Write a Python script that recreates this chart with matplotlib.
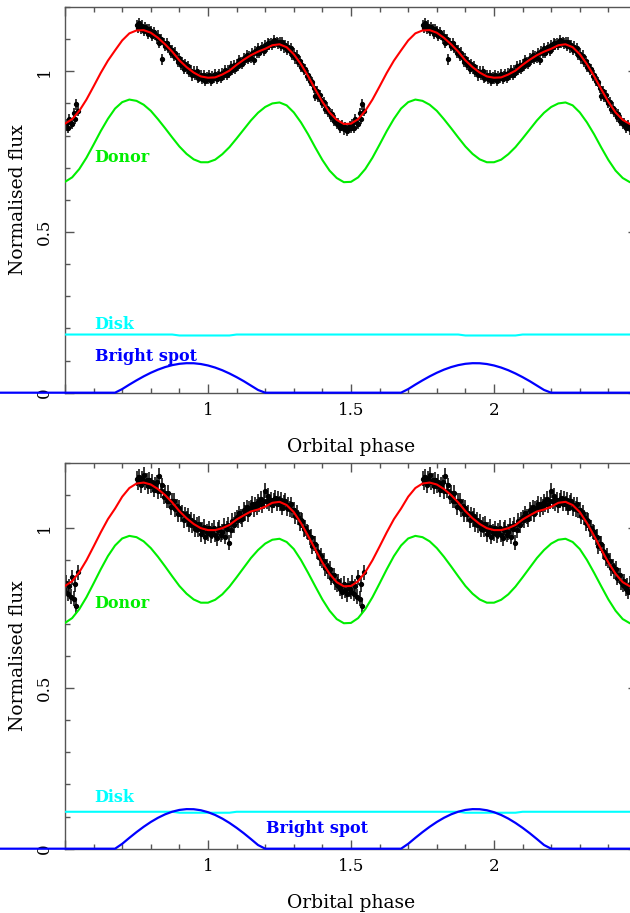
import matplotlib.pyplot as plt
import numpy as np
from matplotlib.ticker import MultipleLocator, FuncFormatter

# %% Model components over one orbital cycle (phase 0 .. 0.975, step 0.025)
cycle_phase = np.arange(40) * 0.025

donor_top = [0.717, 0.725, 0.742, 0.764, 0.791, 0.819, 0.847, 0.871, 0.889, 0.900,
             0.903, 0.894, 0.872, 0.841, 0.804, 0.763, 0.724, 0.691, 0.668, 0.655,
             0.656, 0.670, 0.696, 0.731, 0.772, 0.814, 0.852, 0.884, 0.904, 0.912,
             0.908, 0.896, 0.877, 0.851, 0.823, 0.794, 0.766, 0.743, 0.726, 0.717]
disk_top = [0.178, 0.178, 0.178, 0.178, 0.181, 0.181, 0.181, 0.181, 0.181, 0.181,
            0.181, 0.181, 0.181, 0.181, 0.181, 0.181, 0.181, 0.181, 0.181, 0.181,
            0.181, 0.181, 0.181, 0.181, 0.181, 0.181, 0.181, 0.181, 0.181, 0.181,
            0.181, 0.181, 0.181, 0.181, 0.181, 0.181, 0.178, 0.178, 0.178, 0.178]
spot_top = [0.0847, 0.0782, 0.0699, 0.0598, 0.0484, 0.0359, 0.0224, 0.0085, 0.0, 0.0,
            0.0, 0.0, 0.0, 0.0, 0.0, 0.0, 0.0, 0.0, 0.0, 0.0,
            0.0, 0.0, 0.0, 0.0, 0.0, 0.0, 0.0, 0.0, 0.0113, 0.0252,
            0.0384, 0.0508, 0.0620, 0.0717, 0.0797, 0.0858, 0.0899, 0.0918, 0.0916, 0.0892]
total_top = [0.980, 0.981, 0.990, 1.002, 1.020, 1.036, 1.050, 1.061, 1.070, 1.081,
             1.084, 1.075, 1.053, 1.022, 0.985, 0.944, 0.905, 0.872, 0.849, 0.836,
             0.837, 0.851, 0.877, 0.912, 0.953, 0.995, 1.033, 1.065, 1.096, 1.118,
             1.127, 1.128, 1.120, 1.104, 1.084, 1.061, 1.034, 1.013, 0.996, 0.984]

donor_bot = [0.766, 0.775, 0.792, 0.816, 0.845, 0.875, 0.905, 0.930, 0.950, 0.962,
             0.965, 0.955, 0.933, 0.899, 0.859, 0.817, 0.776, 0.741, 0.715, 0.702,
             0.703, 0.718, 0.746, 0.783, 0.826, 0.870, 0.911, 0.944, 0.966, 0.974,
             0.970, 0.957, 0.936, 0.909, 0.879, 0.848, 0.818, 0.794, 0.776, 0.766]
disk_bot = [0.112, 0.112, 0.112, 0.112, 0.115, 0.115, 0.115, 0.115, 0.115, 0.115,
            0.115, 0.115, 0.115, 0.115, 0.115, 0.115, 0.115, 0.115, 0.115, 0.115,
            0.115, 0.115, 0.115, 0.115, 0.115, 0.115, 0.115, 0.115, 0.115, 0.115,
            0.115, 0.115, 0.115, 0.115, 0.115, 0.115, 0.112, 0.112, 0.112, 0.112]
spot_bot = [0.1137, 0.1050, 0.0938, 0.0803, 0.0650, 0.0482, 0.0301, 0.0114, 0.0, 0.0,
            0.0, 0.0, 0.0, 0.0, 0.0, 0.0, 0.0, 0.0, 0.0, 0.0,
            0.0, 0.0, 0.0, 0.0, 0.0, 0.0, 0.0, 0.0, 0.0152, 0.0338,
            0.0516, 0.0682, 0.0832, 0.0962, 0.1070, 0.1152, 0.1207, 0.1232, 0.1229, 0.1197]
total_bot = [0.992, 0.992, 0.998, 1.008, 1.025, 1.038, 1.050, 1.056, 1.065, 1.077,
             1.080, 1.070, 1.048, 1.014, 0.974, 0.932, 0.891, 0.856, 0.830, 0.817,
             0.818, 0.833, 0.861, 0.898, 0.941, 0.985, 1.026, 1.059, 1.096, 1.123,
             1.137, 1.140, 1.134, 1.120, 1.101, 1.078, 1.051, 1.029, 1.011, 0.998]

# %% Observed light curves, phase 0.75 .. 1.545 (step 0.005)
data_phase = 0.75 + 0.005 * np.arange(160)

flux_top = [1.145, 1.135, 1.149, 1.133, 1.142, 1.125, 1.138, 1.131, 1.117, 1.132,
            1.124, 1.109, 1.123, 1.112, 1.102, 1.111, 1.088, 1.099, 1.037, 1.089,
            1.078, 1.088, 1.073, 1.075, 1.056, 1.065, 1.049, 1.058, 1.042, 1.028,
            1.040, 1.021, 1.028, 1.008, 1.022, 1.009, 1.017, 0.998, 1.002, 0.987,
            0.999, 0.988, 1.000, 0.979, 0.984, 0.988, 0.975, 0.988, 0.971, 0.983,
            0.975, 0.988, 0.971, 0.984, 0.979, 0.991, 0.976, 0.984, 0.992, 0.978,
            0.994, 0.989, 1.004, 0.989, 1.002, 0.996, 1.017, 1.005, 1.018, 1.007,
            1.023, 1.016, 1.034, 1.028, 1.023, 1.042, 1.035, 1.051, 1.038, 1.048,
            1.042, 1.057, 1.034, 1.064, 1.056, 1.071, 1.058, 1.067, 1.074, 1.062,
            1.082, 1.076, 1.089, 1.083, 1.089, 1.082, 1.096, 1.087, 1.092, 1.086,
            1.091, 1.080, 1.090, 1.074, 1.081, 1.067, 1.077, 1.063, 1.071, 1.051,
            1.055, 1.040, 1.049, 1.030, 1.033, 1.013, 1.018, 1.005, 1.007, 0.986,
            0.989, 0.969, 0.970, 0.966, 0.947, 0.924, 0.939, 0.921, 0.926, 0.910,
            0.901, 0.904, 0.883, 0.887, 0.873, 0.871, 0.857, 0.866, 0.846, 0.849,
            0.835, 0.838, 0.824, 0.830, 0.833, 0.819, 0.827, 0.814, 0.824, 0.830,
            0.825, 0.836, 0.825, 0.851, 0.839, 0.836, 0.870, 0.853, 0.897, 0.877]

flux_bot = [1.152, 1.141, 1.158, 1.133, 1.151, 1.165, 1.141, 1.147, 1.128, 1.149,
            1.130, 1.143, 1.118, 1.132, 1.141, 1.113, 1.161, 1.115, 1.131, 1.096,
            1.109, 1.084, 1.107, 1.084, 1.063, 1.084, 1.084, 1.058, 1.066, 1.042,
            1.061, 1.041, 1.045, 1.023, 1.041, 1.027, 1.037, 1.011, 1.023, 1.007,
            1.017, 0.995, 1.008, 0.994, 1.012, 0.980, 0.993, 1.002, 0.972, 0.987,
            0.982, 0.997, 0.976, 0.989, 1.000, 0.978, 0.968, 0.992, 1.000, 0.978,
            0.986, 1.006, 0.972, 0.996, 1.009, 0.953, 0.991, 1.020, 1.008, 1.024,
            1.032, 1.024, 1.044, 1.035, 1.026, 1.054, 1.045, 1.063, 1.042, 1.059,
            1.062, 1.073, 1.057, 1.072, 1.064, 1.081, 1.072, 1.090, 1.069, 1.083,
            1.115, 1.082, 1.098, 1.076, 1.087, 1.069, 1.084, 1.092, 1.074, 1.089,
            1.074, 1.087, 1.062, 1.077, 1.083, 1.060, 1.071, 1.058, 1.072, 1.054,
            1.056, 1.036, 1.046, 1.032, 1.013, 1.024, 1.021, 0.996, 0.999, 0.988,
            0.984, 0.969, 0.972, 0.943, 0.950, 0.950, 0.926, 0.924, 0.904, 0.911,
            0.897, 0.897, 0.874, 0.879, 0.865, 0.871, 0.844, 0.851, 0.851, 0.831,
            0.822, 0.832, 0.810, 0.819, 0.800, 0.824, 0.805, 0.792, 0.820, 0.808,
            0.800, 0.827, 0.794, 0.817, 0.785, 0.845, 0.779, 0.824, 0.755, 0.860]

# text labels: (text, phase, flux, colour)
labels_top = [('Donor', 0.604, 0.717, '#00ee00'),
              ('Disk', 0.604, 0.197, '#00ffff'),
              ('Bright spot', 0.604, 0.0985, '#0000ff')]
labels_bot = [('Donor', 0.604, 0.748, '#00ee00'),
              ('Disk', 0.604, 0.146, '#00ffff'),
              ('Bright spot', 1.204, 0.048, '#0000ff')]

# %% Plot
W, H = 630, 913
fig = plt.figure(figsize=(W / 100, H / 100), dpi=100)
ax_w = 572 / W
ax_top = fig.add_axes([65 / W, (H - 392.7) / H, ax_w, 385.7 / H])
ax_bot = fig.add_axes([65 / W, (H - 848.7) / H, ax_w, 385.4 / H])

axis_grey = '#555555'
x_fmt = FuncFormatter(lambda v, pos: '%g' % v if 0.75 < v < 2.25 else '')
y_fmt = FuncFormatter(lambda v, pos: '%g' % v)


def draw_panel(ax, donor, disk, spot, total, flux, err, labels):
    for shift in (-1, 0, 1):
        ax.errorbar(data_phase + shift, flux, yerr=err, fmt='o', ms=2.8,
                    color='k', ecolor='k', elinewidth=1.1, capsize=0,
                    zorder=2)
    x = np.concatenate([cycle_phase + k for k in range(-1, 3)])
    ax.plot(x, np.tile(donor, 4), color='#00ee00', lw=1.5, zorder=3)
    ax.plot(x, np.tile(disk, 4), color='#00ffff', lw=1.5, zorder=3)
    ax.plot(x, np.tile(spot, 4), color='#0000ff', lw=1.6, zorder=4,
            clip_on=False)
    ax.plot(x, np.tile(total, 4), color='#ff0000', lw=1.5, zorder=5)

    for txt, px, py, col in labels:
        ax.text(px, py, txt, color=col, fontsize=11.5, fontweight='bold',
                family='DejaVu Serif', va='baseline', ha='left')

    ax.set_xlim(0.5, 2.5)
    ax.set_ylim(0, 1.2)
    ax.xaxis.set_major_locator(MultipleLocator(0.5))
    ax.xaxis.set_minor_locator(MultipleLocator(0.1))
    ax.yaxis.set_major_locator(MultipleLocator(0.5))
    ax.yaxis.set_minor_locator(MultipleLocator(0.1))
    ax.xaxis.set_major_formatter(x_fmt)
    ax.yaxis.set_major_formatter(y_fmt)
    ax.tick_params(which='both', direction='in', top=True, right=True,
                   color=axis_grey, width=1)
    ax.tick_params(which='major', length=6.3)
    ax.tick_params(which='minor', length=3.6)
    ax.tick_params(axis='x', which='major', pad=7, labelsize=12)
    ax.tick_params(axis='y', which='major', pad=8.5, labelsize=12)
    for lab in ax.get_xticklabels() + ax.get_yticklabels():
        lab.set_family('DejaVu Serif')
    for lab in ax.get_yticklabels():
        lab.set_rotation(90)
        lab.set_va('center')
    for sp in ax.spines.values():
        sp.set_color(axis_grey)
        sp.set_linewidth(1)

    ax.text(0.5, -0.141, 'Orbital phase', transform=ax.transAxes,
            ha='center', va='center', fontsize=13.5, family='DejaVu Serif')
    ax.text(-0.082, 0.5, 'Normalised flux', transform=ax.transAxes,
            ha='center', va='center', rotation=90, fontsize=13.5,
            family='DejaVu Serif')


draw_panel(ax_top, donor_top, disk_top, spot_top, total_top, flux_top,
           0.016, labels_top)
draw_panel(ax_bot, donor_bot, disk_bot, spot_bot, total_bot, flux_bot,
           0.024, labels_bot)

fig.savefig('out.png', dpi=100)
